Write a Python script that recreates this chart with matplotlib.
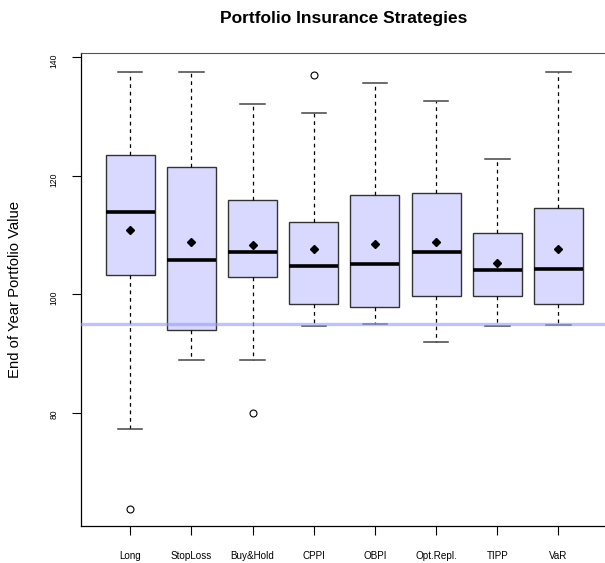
import matplotlib
matplotlib.use("Agg")
import matplotlib.pyplot as plt

plt.rcParams["font.family"] = ["Liberation Sans", "DejaVu Sans"]

# End-of-year portfolio value summaries per strategy
strategies = ["Long", "StopLoss", "Buy&Hold", "CPPI", "OBPI", "Opt.Repl.", "TIPP", "VaR"]
whisker_low = [77.3, 89.0, 88.9, 94.6, 95.0, 92.0, 94.6, 94.8]
q1 = [103.3, 93.9, 102.9, 98.4, 97.8, 99.7, 99.8, 98.3]
median = [113.9, 105.8, 107.1, 104.7, 105.2, 107.1, 104.15, 104.2]
q3 = [123.5, 121.5, 116.0, 112.25, 116.7, 117.05, 110.35, 114.6]
whisker_high = [137.6, 137.6, 132.2, 130.65, 135.6, 132.6, 122.8, 137.5]
means = [110.85, 108.8, 108.3, 107.65, 108.5, 108.8, 105.3, 107.65]
outliers = [[63.7], [], [80.0], [137.0], [], [], [], []]
floor_value = 95

stats = []
for i, name in enumerate(strategies):
    stats.append({
        "label": name,
        "whislo": whisker_low[i],
        "q1": q1[i],
        "med": median[i],
        "q3": q3[i],
        "whishi": whisker_high[i],
        "mean": means[i],
        "fliers": outliers[i],
    })

fig = plt.figure(figsize=(6.05, 5.63), dpi=100)
ax = fig.add_axes([0.1334, 0.0657, 0.8716, 0.8396])

ax.bxp(
    stats,
    widths=0.8,
    capwidths=0.4,
    patch_artist=True,
    showmeans=True,
    boxprops=dict(facecolor="#d9d9ff", edgecolor="#333333", linewidth=1.0),
    medianprops=dict(color="black", linewidth=2.6, solid_capstyle="butt"),
    whiskerprops=dict(color="black", linewidth=0.9, linestyle=(0, (3, 3))),
    capprops=dict(color="#444444", linewidth=1.1),
    flierprops=dict(marker="o", markerfacecolor="none", markeredgecolor="black",
                    markersize=5, markeredgewidth=0.8),
    meanprops=dict(marker="D", markerfacecolor="black", markeredgecolor="black",
                   markersize=3.6),
)

# floor level
ax.axhline(floor_value, color="#9999ff", alpha=0.6, linewidth=2.4, zorder=5)

ax.set_xlim(0.19, 8.81)
ax.set_ylim(60.9, 140.68)
ax.set_yticks([80, 100, 120, 140])

ax.spines["right"].set_visible(False)
ax.spines["top"].set_color("#555555")
for side in ["left", "bottom"]:
    ax.spines[side].set_color("black")
    ax.spines[side].set_linewidth(0.9)

ax.tick_params(axis="x", length=6.5, width=0.8, pad=11.5, labelsize=7.1)
ax.tick_params(axis="y", length=6.5, width=0.8, pad=9.5, labelsize=6.2,
               labelrotation=90)

fig.text(344 / 605, 1 - 18 / 563, "Portfolio Insurance Strategies",
         ha="center", va="center", fontsize=12.5, fontweight="bold")
fig.text(15 / 605, 1 - 290 / 563, "End of Year Portfolio Value",
         ha="center", va="center", rotation=90, fontsize=10.7)

fig.savefig("out.png", dpi=100)
